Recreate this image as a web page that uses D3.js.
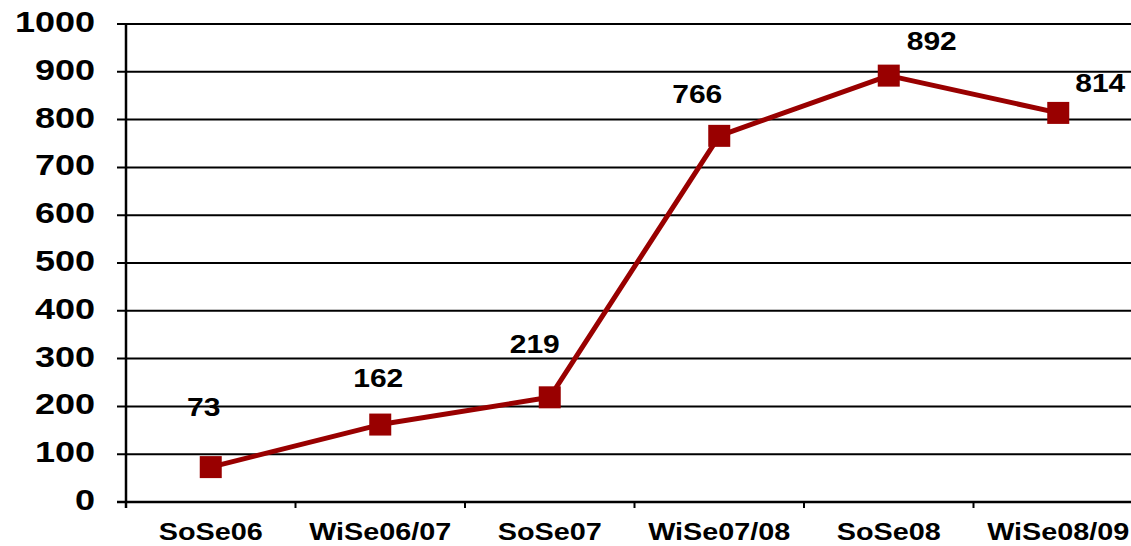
<!DOCTYPE html>
<html>
<head>
<meta charset="utf-8">
<script src="https://cdn.jsdelivr.net/npm/d3@7"></script>
<style>
	body { margin: 0; background: #fff; overflow: hidden; }
	text { font-family: "Liberation Sans", Arial, sans-serif; font-weight: bold; fill: #000; }
</style>
</head>
<body>
<div id="chart"></div>
<script>
var semesters = ["SoSe06", "WiSe06/07", "SoSe07", "WiSe07/08", "SoSe08", "WiSe08/09"]
var students = [73, 162, 219, 766, 892, 814]
var yTicks = [0, 100, 200, 300, 400, 500, 600, 700, 800, 900, 1000]

// where each value label sits relative to its marker
var labelDx = [-7, -2, -15, -22, 43, 42]
var labelDy = [-51, -38, -44, -33, -26, -21]

var width = 1131, height = 546
var plotLeft = 126, plotRight = 1143, plotTop = 24, plotBottom = 502
var red = "#990000"
var stretch = "scale(1.2,1)"

var svg = d3.select("#chart").append("svg").attr("width", width).attr("height", height)

var x = d3.scaleBand().domain(semesters).range([plotLeft, plotRight])
var y = d3.scaleLinear().domain([0, 1000]).range([plotBottom, plotTop])

// gridlines with left ticks
svg.append("g").selectAll("line").data(yTicks).enter().append("line")
	.attr("x1", plotLeft - 9).attr("x2", width)
	.attr("y1", function(d){ return y(d) }).attr("y2", function(d){ return y(d) })
	.attr("stroke", "#000").attr("stroke-width", 2)

svg.append("g").selectAll("g").data(yTicks).enter().append("g")
	.attr("transform", function(d){ return "translate(95," + (y(d) + 8) + ")" })
	.append("text").attr("transform", stretch).attr("text-anchor", "end")
	.style("font-size", "30px").text(function(d){ return d })

// axes
svg.append("line").attr("x1", plotLeft).attr("x2", plotLeft).attr("y1", plotTop).attr("y2", plotBottom + 6)
	.attr("stroke", "#000").attr("stroke-width", 2.5)
svg.append("line").attr("x1", plotLeft - 9).attr("x2", width).attr("y1", plotBottom).attr("y2", plotBottom)
	.attr("stroke", "#000").attr("stroke-width", 2.5)

svg.append("g").selectAll("line").data(semesters.slice(1)).enter().append("line")
	.attr("x1", function(d){ return x(d) }).attr("x2", function(d){ return x(d) })
	.attr("y1", plotBottom).attr("y2", plotBottom + 6)
	.attr("stroke", "#000").attr("stroke-width", 2)

svg.append("g").selectAll("g").data(semesters).enter().append("g")
	.attr("transform", function(d){ return "translate(" + (x(d) + x.bandwidth() / 2) + ",540)" })
	.append("text").attr("transform", stretch).attr("text-anchor", "middle")
	.style("font-size", "24px").text(function(d){ return d })

function cx(i) { return x(semesters[i]) + x.bandwidth() / 2 }

var line = d3.line()
	.x(function(d, i){ return cx(i) })
	.y(function(d){ return y(d) })

svg.append("path").datum(students).attr("d", line)
	.attr("fill", "none").attr("stroke", red).attr("stroke-width", 5).attr("stroke-linejoin", "round")

svg.append("g").selectAll("rect").data(students).enter().append("rect")
	.attr("x", function(d, i){ return cx(i) - 11 }).attr("y", function(d){ return y(d) - 11 })
	.attr("width", 22).attr("height", 22).attr("fill", red)

svg.append("g").selectAll("g").data(students).enter().append("g")
	.attr("transform", function(d, i){ return "translate(" + (cx(i) + labelDx[i]) + "," + (y(d) + labelDy[i]) + ")" })
	.append("text").attr("transform", stretch).attr("text-anchor", "middle")
	.style("font-size", "25px").text(function(d){ return d })
</script>
</body>
</html>
